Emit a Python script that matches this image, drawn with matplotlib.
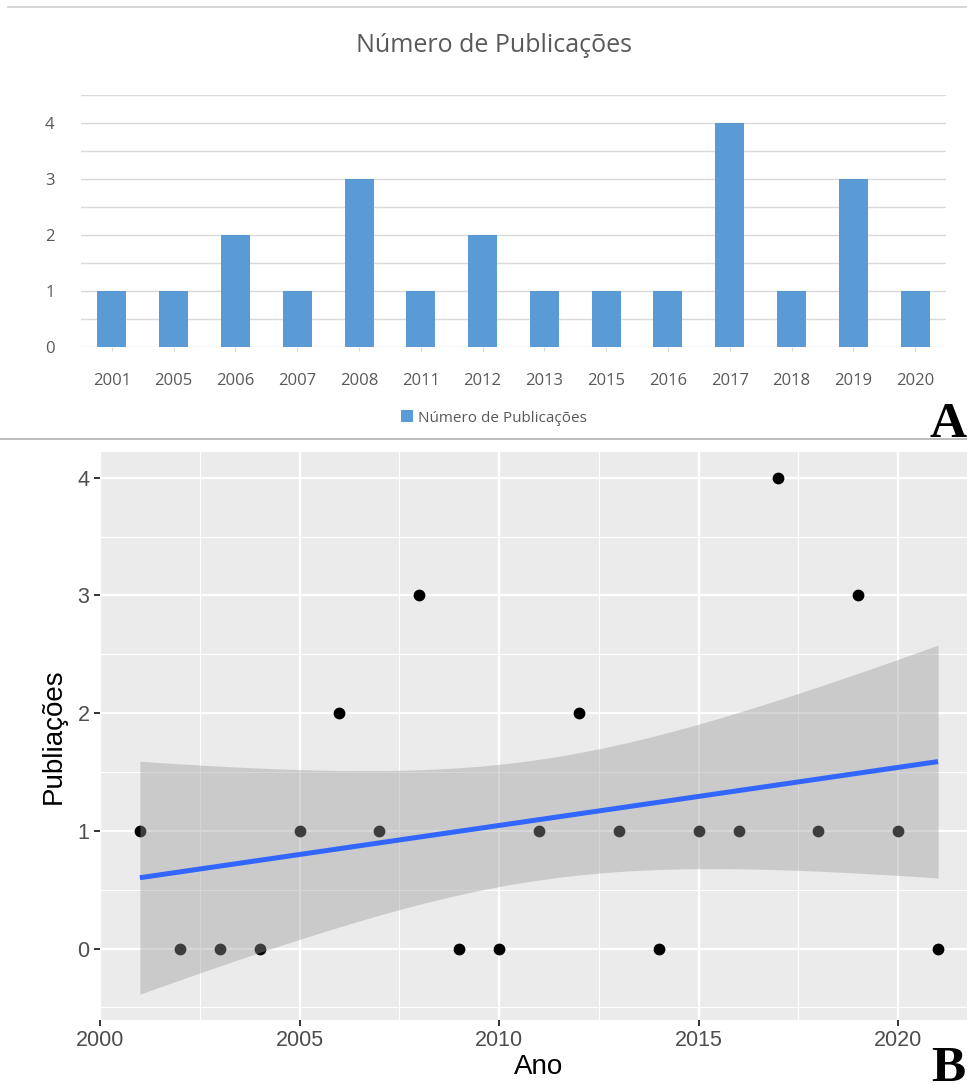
import numpy as np
import matplotlib
matplotlib.use("Agg")
import matplotlib.pyplot as plt
from matplotlib.lines import Line2D

# ---------------- data ----------------
# Panel A (bar chart)
bar_years = ['2001', '2005', '2006', '2007', '2008', '2011', '2012',
             '2013', '2015', '2016', '2017', '2018', '2019', '2020']
bar_counts = [1, 1, 2, 1, 3, 1, 2, 1, 1, 1, 4, 1, 3, 1]
title_a = 'Número de Publicações'
legend_a = 'Número de Publicações'

# Panel B (scatter + linear fit)
years = [2001, 2002, 2003, 2004, 2005, 2006, 2007, 2008, 2009, 2010, 2011,
         2012, 2013, 2014, 2015, 2016, 2017, 2018, 2019, 2020, 2021]
pubs = [1, 0, 0, 0, 1, 2, 1, 3, 0, 0, 1, 2, 1, 0, 1, 1, 4, 1, 3, 1, 0]
xticks_b = [2000, 2005, 2010, 2015, 2020]
yticks_b = [0, 1, 2, 3, 4]
t_quant = 2.093  # 95% t quantile, df = 19

W, H = 967, 1086
fig = plt.figure(figsize=(W / 100, H / 100), dpi=100)


def rect(l, t, r, b):
    return [l / W, 1 - b / H, (r - l) / W, (b - t) / H]


# ---------------- Panel A ----------------
gray_txt = '#595959'
axA = fig.add_axes(rect(81, 95, 946, 347))
xa = np.arange(len(bar_years))
axA.bar(xa, bar_counts, width=0.47, color='#5B9BD5', zorder=3, label=legend_a)
axA.set_yticks(range(0, 5))
axA.set_yticks(np.arange(0.5, 4.6, 1.0), minor=True)
axA.set_xticks(xa)
axA.set_xlim(-0.5, len(bar_years) - 0.5)
axA.set_ylim(0, 4.5)
axA.grid(axis='y', which='both', color='#D9D9D9', lw=1.0, zorder=0)
axA.set_axisbelow(True)
for s in axA.spines.values():
    s.set_visible(False)
axA.set_xticklabels(bar_years, fontfamily='Open Sans', fontsize=12, color=gray_txt)
axA.set_yticklabels([str(v) for v in range(0, 5)], fontfamily='Open Sans',
                    fontsize=12, color=gray_txt)
axA.tick_params(axis='y', which='both', length=0, pad=19)
axA.tick_params(axis='x', length=3, color='#D9D9D9', pad=16)
axA.set_facecolor('white')

fig.text(494 / W, 1 - 45 / H, title_a, ha='center', va='center',
         fontfamily='Open Sans', fontsize=18, color=gray_txt)
leg = axA.legend(loc='center', bbox_to_anchor=(494 / W, 1 - 418 / H),
                 bbox_transform=fig.transFigure, frameon=False,
                 handlelength=0.8, handleheight=0.8, handletextpad=0.3,
                 prop={'family': 'Open Sans', 'size': 11})
for t in leg.get_texts():
    t.set_color(gray_txt)

fig.add_artist(Line2D([8 / W, 1], [1 - 7 / H, 1 - 7 / H], color='#D0D0D0', lw=1.2))
fig.add_artist(Line2D([0, 1], [1 - 439 / H, 1 - 439 / H], color='#B0B0B0', lw=1.2))
fig.text(948 / W, 1 - 437 / H, 'A', ha='center', va='baseline',
         fontfamily='Liberation Serif', fontweight='bold', fontsize=37, color='black')

# ---------------- Panel B ----------------
xb = np.array(years, dtype=float)
yb = np.array(pubs, dtype=float)
n = len(xb)
slope, intercept = np.polyfit(xb, yb, 1)
resid = yb - (slope * xb + intercept)
s_err = np.sqrt(np.sum(resid ** 2) / (n - 2))
sxx = np.sum((xb - xb.mean()) ** 2)
xf = np.linspace(xb.min(), xb.max(), 100)
yf = slope * xf + intercept
se = s_err * np.sqrt(1 / n + (xf - xb.mean()) ** 2 / sxx)
lo, hi = yf - t_quant * se, yf + t_quant * se

axB = fig.add_axes(rect(100, 452, 978, 1020))
axB.set_facecolor('#EBEBEB')
axB.scatter(xb, yb, s=72, color='black', zorder=3, linewidths=0)
axB.fill_between(xf, lo, hi, color='#999999', alpha=0.4, lw=0, zorder=4)
axB.plot(xf, yf, color='#3366FF', lw=3.6, zorder=5, solid_capstyle='butt')

axB.set_xticks(xticks_b)
axB.set_yticks(yticks_b)
axB.set_xticks([x + 2.5 for x in xticks_b], minor=True)
axB.set_yticks([y - 0.5 for y in yticks_b] + [4.5], minor=True)

xr = xb.max() - xb.min()
axB.set_xlim(xb.min() - 0.05 * xr, xb.max() + 0.05 * xr)
ymin = min(yb.min(), lo.min())
ymax = max(yb.max(), hi.max())
yr = ymax - ymin
axB.set_ylim(ymin - 0.05 * yr, ymax + 0.05 * yr)

axB.grid(which='major', color='white', lw=1.6)
axB.grid(which='minor', color='white', lw=0.8)
axB.set_axisbelow(True)
for s in axB.spines.values():
    s.set_visible(False)
axB.tick_params(which='major', length=4.5, width=1.4, color='#333333',
                labelcolor='#4D4D4D', labelsize=15.5, pad=3)
axB.tick_params(which='minor', length=0)
for lab in axB.get_xticklabels() + axB.get_yticklabels():
    lab.set_fontfamily('Liberation Sans')
axB.set_xlabel('Ano', fontfamily='Liberation Sans', fontsize=20, labelpad=2)
axB.set_ylabel('Publiações', fontfamily='Liberation Sans', fontsize=20, labelpad=8)

fig.text(948 / W, 1 - 1081 / H, 'B', ha='center', va='baseline',
         fontfamily='Liberation Serif', fontweight='bold', fontsize=37, color='black')

fig.savefig('out.png', dpi=100, facecolor='white')
